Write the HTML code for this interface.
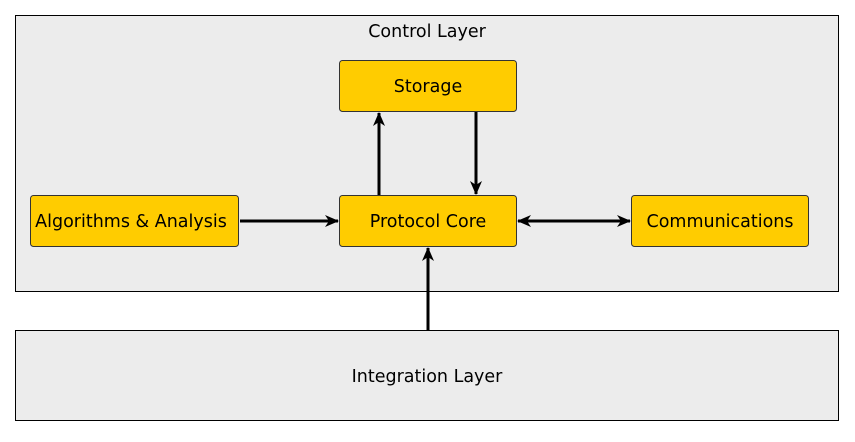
<!DOCTYPE html>
<html><head><style>body{margin:0;background:#fff}</style></head><body>
<svg width="855" height="437" xmlns="http://www.w3.org/2000/svg" font-family="DejaVu Sans, Liberation Sans, sans-serif" font-size="17.5">
<defs><marker id="a" markerWidth="14" markerHeight="12" refX="13" refY="6" orient="auto" markerUnits="userSpaceOnUse"><path d="M0,0 L14,6 L0,12 L4,6 z" fill="#000"/></marker></defs>
<rect x="15.5" y="15.5" width="823" height="276" fill="#ececec" stroke="#000" stroke-width="1"/>
<text x="427" y="37" text-anchor="middle">Control Layer</text>
<rect x="15.5" y="330.5" width="823" height="90" fill="#ececec" stroke="#000" stroke-width="1"/>
<text x="427" y="382" text-anchor="middle">Integration Layer</text>
<g fill="#ffcc00" stroke="#333" stroke-width="1">
<rect x="339.5" y="60.5" width="177" height="51" rx="3"/>
<rect x="339.5" y="195.5" width="177" height="51" rx="3"/>
<rect x="30.5" y="195.5" width="208" height="51" rx="3"/>
<rect x="631.5" y="195.5" width="177" height="51" rx="3"/>
</g>
<g text-anchor="middle">
<text x="428" y="92">Storage</text>
<text x="428" y="227">Protocol Core</text>
<text x="131" y="227">Algorithms &amp; Analysis</text>
<text x="720" y="227">Communications</text>
</g>
<g stroke="#000" stroke-width="3" fill="none">
<line x1="379" y1="195" x2="379" y2="113" marker-end="url(#a)"/>
<line x1="476" y1="112" x2="476" y2="194" marker-end="url(#a)"/>
<line x1="240" y1="221" x2="338" y2="221" marker-end="url(#a)"/>
<line x1="520" y1="221" x2="630" y2="221" marker-end="url(#a)"/>
<line x1="628" y1="221" x2="518" y2="221" marker-end="url(#a)"/>
<line x1="428" y1="330" x2="428" y2="248" marker-end="url(#a)"/>
</g>
</svg>
</body></html>
